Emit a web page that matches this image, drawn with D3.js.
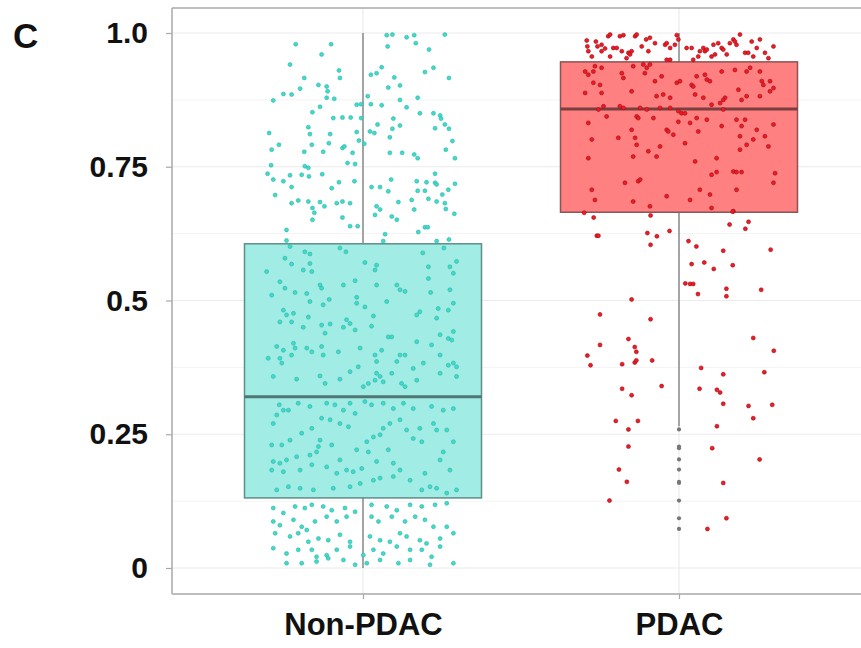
<!DOCTYPE html>
<html>
<head>
<meta charset="utf-8">
<script src="https://cdn.jsdelivr.net/npm/d3@7/dist/d3.min.js"></script>
<style>
  html, body { margin: 0; padding: 0; background: #ffffff; }
  svg { display: block; }
  text { font-family: "Liberation Sans", Arial, sans-serif; font-weight: bold; fill: #111; }
</style>
</head>
<body>
<svg id="chart" width="861" height="648"></svg>
<script>
// ---------------- DATA ----------------
const panelLabel = "C";
const categories = ["Non-PDAC", "PDAC"];
const yTicks = [0, 0.25, 0.5, 0.75, 1];
const yTickLabels = ["0", "0.25", "0.5", "0.75", "1.0"];
const yMinorTicks = [0.125, 0.375, 0.625, 0.875];

// box statistics: [lower whisker, Q1, median, Q3, upper whisker]
const nonPdacBox = [0.0, 0.131, 0.32, 0.606, 1.0];
const pdacBox = [0.265, 0.665, 0.858, 0.946, 1.0];

// jittered observations: [horizontal jitter (category units), value]
const nonPdacPoints = [
[-0.213,0.979],[-0.101,0.979],[-0.131,0.960],[-0.231,0.941],[-0.186,0.916],[-0.199,0.896],[-0.252,0.886],[-0.226,0.885],
[-0.284,0.874],[-0.141,0.903],[-0.115,0.900],[-0.112,0.891],[-0.115,0.879],[-0.091,0.877],[-0.076,0.930],[-0.073,0.916],
[-0.136,0.862],[-0.160,0.852],[-0.094,0.841],[-0.065,0.842],[-0.039,0.842],[-0.020,0.866],[-0.006,0.867],[-0.006,0.841],
[-0.173,0.824],[-0.168,0.811],[-0.104,0.811],[-0.297,0.813],[-0.266,0.791],[-0.289,0.782],[-0.162,0.791],[-0.186,0.778],
[-0.126,0.778],[-0.108,0.794],[-0.065,0.785],[-0.059,0.788],[-0.033,0.776],[-0.020,0.815],[-0.013,0.799],[0.004,0.793],
[-0.291,0.753],[-0.302,0.737],[-0.284,0.726],[-0.252,0.723],[-0.231,0.734],[-0.194,0.735],[-0.184,0.751],[-0.173,0.748],
[-0.171,0.732],[-0.129,0.736],[-0.049,0.757],[-0.025,0.755],[-0.226,0.712],[-0.099,0.710],[-0.076,0.721],[-0.027,0.723],
[-0.278,0.697],[-0.226,0.682],[-0.205,0.687],[-0.173,0.685],[-0.160,0.673],[-0.154,0.664],[-0.160,0.651],[-0.136,0.684],
[-0.122,0.676],[-0.083,0.682],[-0.065,0.685],[-0.041,0.682],[-0.065,0.655],[-0.041,0.639],[-0.017,0.639],[-0.242,0.632],
[-0.242,0.612],
[0.075,0.996],[0.093,0.997],[0.138,0.992],[0.162,0.996],[0.167,0.981],[0.259,0.997],[0.078,0.975],[0.209,0.969],
[0.059,0.936],[0.043,0.925],[0.025,0.922],[0.099,0.917],[0.080,0.898],[0.117,0.902],[0.196,0.927],[0.223,0.935],
[0.272,0.916],[0.015,0.882],[0.025,0.867],[0.059,0.865],[0.117,0.875],[0.138,0.861],[0.173,0.879],[0.096,0.840],
[0.093,0.821],[0.046,0.829],[0.117,0.827],[0.022,0.816],[0.036,0.813],[0.085,0.805],[0.180,0.850],[0.223,0.850],
[0.244,0.846],[0.247,0.840],[0.228,0.822],[0.259,0.829],[0.272,0.821],[0.283,0.798],[0.085,0.776],[0.124,0.776],
[0.162,0.773],[0.173,0.766],[0.262,0.782],[0.291,0.766],[0.089,0.726],[0.027,0.712],[0.054,0.712],[0.080,0.704],
[0.112,0.684],[0.170,0.723],[0.173,0.705],[0.196,0.705],[0.201,0.721],[0.228,0.737],[0.228,0.720],[0.233,0.717],
[0.251,0.698],[0.270,0.707],[0.291,0.718],[0.207,0.690],[0.233,0.685],[0.259,0.682],[0.262,0.671],[0.289,0.662],
[0.154,0.688],[0.162,0.670],[0.043,0.676],[0.054,0.670],[0.038,0.660],[0.091,0.657],[0.107,0.651],[0.070,0.624],
[0.175,0.628],[0.196,0.637],[0.205,0.637],[0.064,0.611],[0.233,0.611],[0.272,0.614],
[-0.231,0.601],[-0.184,0.591],[-0.168,0.587],[-0.073,0.598],[-0.054,0.591],[0.189,0.589],[0.256,0.598],[-0.247,0.579],
[-0.226,0.568],[-0.168,0.569],[-0.189,0.557],[-0.162,0.554],[-0.305,0.554],[0.006,0.571],[0.043,0.566],[0.038,0.557],
[0.207,0.563],[0.275,0.563],[0.296,0.573],[0.286,0.551],[-0.263,0.535],[-0.247,0.523],[-0.136,0.529],[-0.131,0.523],
[-0.215,0.515],[-0.178,0.513],[-0.289,0.510],[-0.168,0.498],[-0.107,0.502],[-0.126,0.492],[-0.025,0.537],[-0.062,0.529],
[0.043,0.529],[0.107,0.529],[0.117,0.520],[0.133,0.517],[-0.020,0.506],[-0.020,0.495],[0.006,0.488],[0.075,0.498],
[0.207,0.541],[0.214,0.515],[0.275,0.520],[0.286,0.495],[0.270,0.482],[0.238,0.485],[0.180,0.479],[0.170,0.473],
[0.233,0.467],[-0.252,0.482],[-0.242,0.473],[-0.263,0.460],[-0.220,0.476],[-0.226,0.460],[-0.173,0.469],[-0.189,0.450],
[-0.131,0.454],[-0.104,0.456],[-0.052,0.464],[-0.041,0.457],[-0.062,0.450],[-0.120,0.439],[-0.025,0.445],[0.033,0.471],
[0.027,0.452],[0.080,0.432],[0.091,0.432],[0.244,0.436],[0.270,0.429],[0.281,0.426],[0.286,0.442],[0.170,0.423],
[0.217,0.417],[-0.273,0.414],[-0.252,0.407],[-0.220,0.420],[-0.215,0.411],[-0.226,0.398],[-0.263,0.392],[-0.257,0.383],
[-0.300,0.392],[-0.178,0.411],[-0.162,0.404],[-0.131,0.414],[-0.126,0.398],[-0.078,0.404],[-0.009,0.411],[0.038,0.398],
[0.059,0.407],[0.117,0.398],[0.133,0.398],[0.107,0.386],[0.043,0.386],[0.244,0.398],[0.270,0.379],[0.286,0.383],
[0.191,0.383],[0.159,0.373],[-0.015,0.376],[-0.041,0.367],[-0.073,0.353],[-0.136,0.359],[-0.120,0.345],[-0.210,0.353],
[-0.284,0.358],[0.043,0.364],[0.054,0.358],[0.038,0.351],[0.064,0.348],[0.017,0.345],[0.001,0.339],[0.091,0.364],
[0.122,0.345],[0.133,0.339],[0.170,0.351],[0.244,0.364],[0.296,0.358],[0.296,0.376],
[-0.265,0.305],[-0.236,0.295],[-0.273,0.286],[-0.284,0.270],[-0.252,0.295],[-0.205,0.308],[-0.168,0.302],[-0.115,0.308],
[-0.089,0.305],[-0.062,0.295],[-0.041,0.308],[-0.025,0.289],[0.006,0.311],[0.027,0.305],[0.064,0.308],[0.096,0.298],
[0.128,0.308],[0.159,0.298],[0.217,0.302],[0.254,0.295],[0.286,0.298],[-0.131,0.280],[-0.104,0.277],[-0.073,0.270],
[-0.046,0.264],[-0.162,0.261],[-0.194,0.252],[-0.231,0.239],[-0.257,0.230],[-0.289,0.230],[-0.136,0.239],[-0.141,0.227],
[-0.147,0.217],[-0.168,0.211],[-0.210,0.208],[-0.242,0.202],[-0.263,0.196],[-0.284,0.199],[-0.289,0.183],[-0.252,0.180],
[-0.199,0.183],[-0.162,0.193],[-0.115,0.189],[-0.083,0.177],[-0.052,0.183],[-0.031,0.180],[-0.004,0.186],[-0.073,0.202],
[-0.099,0.230],[-0.020,0.221],[0.012,0.236],[0.033,0.245],[0.054,0.249],[0.017,0.217],[0.043,0.199],[0.080,0.221],
[0.096,0.196],[0.117,0.183],[0.064,0.261],[0.085,0.270],[0.117,0.277],[0.138,0.258],[0.180,0.261],[0.186,0.236],
[0.159,0.242],[0.223,0.270],[0.233,0.258],[0.265,0.258],[0.286,0.236],[0.254,0.217],[0.244,0.202],[0.275,0.183],
[0.196,0.177],[0.149,0.164],[0.096,0.171],[0.054,0.168],[0.033,0.164],[-0.009,0.158],[-0.041,0.152],[-0.094,0.149],
[-0.157,0.146],[-0.199,0.149],[-0.236,0.152],[-0.273,0.146],[0.212,0.152],[0.233,0.149],[0.265,0.140],[0.296,0.146],
[0.186,0.146],
[-0.284,0.112],[-0.252,0.103],[-0.215,0.115],[-0.184,0.112],[-0.162,0.118],[-0.126,0.115],[-0.099,0.108],[-0.057,0.112],
[-0.025,0.105],[0.027,0.118],[0.075,0.115],[0.107,0.108],[0.149,0.118],[0.186,0.115],[0.228,0.118],[0.265,0.121],
[-0.284,0.087],[-0.263,0.080],[-0.220,0.090],[-0.194,0.077],[-0.178,0.071],[-0.152,0.087],[-0.115,0.096],[-0.083,0.087],
[-0.052,0.096],[0.027,0.096],[0.049,0.087],[0.091,0.096],[0.133,0.087],[0.165,0.096],[0.196,0.090],[0.223,0.077],
[0.265,0.077],[-0.278,0.065],[-0.231,0.059],[-0.205,0.065],[-0.173,0.049],[-0.141,0.055],[-0.110,0.052],[-0.073,0.062],
[-0.041,0.049],[0.022,0.059],[0.054,0.052],[0.085,0.049],[0.117,0.065],[0.138,0.059],[0.180,0.052],[0.201,0.046],
[0.244,0.055],[0.286,0.065],[-0.284,0.037],[-0.242,0.027],[-0.205,0.034],[-0.162,0.034],[-0.147,0.021],[-0.115,0.024],
[-0.083,0.034],[-0.041,0.040],[0.001,0.024],[0.033,0.034],[0.064,0.027],[0.107,0.040],[0.149,0.034],[0.186,0.034],
[0.217,0.021],[0.244,0.040],[-0.242,0.009],[-0.194,0.009],[-0.147,0.012],[-0.110,0.018],[-0.062,0.015],[-0.025,0.006],
[0.012,0.009],[0.054,0.015],[0.112,0.009],[0.149,0.015],[0.212,0.006],[0.286,0.009]
];

const pdacPoints = [
[-0.292,0.986],[-0.290,0.975],[-0.287,0.966],[-0.276,0.956],[-0.263,0.984],[-0.258,0.975],[-0.245,0.978],[-0.234,0.971],
[-0.224,0.994],[-0.218,0.997],[-0.208,0.972],[-0.197,0.972],[-0.187,0.994],[-0.181,0.966],[-0.176,0.996],[-0.160,0.963],
[-0.155,0.960],[-0.150,0.966],[-0.139,0.994],[-0.134,0.997],[-0.118,0.975],[-0.104,0.988],[-0.097,0.966],[-0.092,0.991],
[-0.076,0.981],[-0.044,0.978],[-0.039,0.981],[-0.028,0.972],[-0.013,0.978],[-0.007,0.996],[-0.002,0.988],[0.024,0.972],
[0.040,0.972],[0.061,0.956],[0.066,0.966],[0.077,0.972],[0.082,0.966],[0.088,0.969],[0.109,0.978],[0.114,0.960],
[0.124,0.981],[0.135,0.972],[0.140,0.969],[0.151,0.960],[0.161,0.981],[0.172,0.988],[0.177,0.984],[0.182,0.978],
[0.193,0.997],[0.209,0.963],[0.219,0.963],[0.235,0.956],[0.246,0.972],[0.256,0.988],[0.272,0.963],[0.283,0.953],
[0.299,0.975],[0.230,0.984],[0.103,0.956],[0.045,0.950],[-0.028,0.950],[-0.166,0.953],[-0.218,0.956],[-0.245,0.966],
[-0.297,0.928],[-0.287,0.922],[-0.271,0.928],[-0.266,0.938],[-0.245,0.935],[-0.271,0.907],[-0.250,0.903],[-0.297,0.888],
[-0.245,0.888],[-0.239,0.863],[-0.229,0.844],[-0.255,0.857],[-0.287,0.832],[-0.276,0.801],[-0.287,0.766],[-0.276,0.707],
[-0.266,0.688],[-0.181,0.925],[-0.176,0.916],[-0.187,0.863],[-0.176,0.860],[-0.150,0.891],[-0.145,0.938],[-0.113,0.941],
[-0.102,0.935],[-0.092,0.941],[-0.108,0.925],[-0.076,0.910],[-0.055,0.919],[-0.071,0.882],[-0.050,0.885],[-0.028,0.879],
[-0.039,0.950],[-0.123,0.860],[-0.102,0.857],[-0.060,0.860],[-0.028,0.860],[-0.002,0.854],[0.008,0.850],[0.019,0.850],
[-0.134,0.844],[-0.129,0.841],[-0.081,0.841],[-0.150,0.819],[-0.139,0.804],[-0.192,0.804],[-0.134,0.791],[-0.145,0.769],
[-0.097,0.779],[-0.071,0.769],[-0.060,0.788],[-0.039,0.819],[-0.034,0.816],[-0.018,0.810],[0.019,0.794],[-0.002,0.834],
[0.035,0.832],[0.056,0.841],[0.088,0.838],[0.061,0.816],[0.135,0.826],[0.182,0.838],[0.209,0.838],[0.198,0.826],
[0.246,0.819],[0.299,0.829],[0.272,0.807],[0.283,0.788],[0.235,0.801],[0.214,0.791],[0.193,0.807],[0.193,0.782],
[-0.007,0.907],[0.003,0.910],[0.040,0.903],[0.045,0.900],[0.051,0.885],[0.077,0.879],[0.088,0.913],[0.098,0.910],
[0.056,0.919],[0.082,0.922],[0.135,0.928],[0.177,0.931],[0.214,0.928],[0.225,0.935],[0.256,0.928],[0.262,0.910],
[0.267,0.903],[0.288,0.910],[0.288,0.891],[0.256,0.882],[0.214,0.882],[0.198,0.875],[0.188,0.894],[0.146,0.879],
[0.140,0.875],[0.130,0.869],[0.103,0.866],[0.140,0.857],[0.119,0.766],[0.051,0.760],[0.103,0.735],[0.119,0.740],
[0.172,0.741],[0.182,0.740],[0.198,0.740],[0.304,0.738],[0.299,0.720],[0.182,0.707],[0.098,0.698],[0.066,0.707],
[0.035,0.688],[-0.039,0.695],[-0.092,0.676],[-0.145,0.685],[-0.171,0.720],[-0.129,0.723],[-0.123,0.726],[0.103,0.673],
[0.172,0.667],[0.299,0.897],
[-0.300,0.664],[-0.270,0.655],[-0.090,0.659],[0.170,0.666],[0.160,0.642],[0.220,0.647],[0.210,0.634],[-0.260,0.621],
[-0.255,0.621],[-0.100,0.626],[-0.070,0.620],[-0.030,0.630],[-0.090,0.604],[0.030,0.611],[0.055,0.601],[0.140,0.593],
[0.290,0.595],[0.040,0.568],[0.080,0.571],[0.110,0.559],[0.170,0.566],[0.020,0.532],[0.035,0.531],[0.045,0.531],
[0.150,0.522],[0.260,0.520],[0.060,0.512],[0.150,0.508],[-0.150,0.502],[-0.250,0.474],[-0.090,0.465],[0.235,0.430],
[-0.160,0.428],[-0.250,0.417],[-0.140,0.413],[-0.135,0.404],[-0.290,0.397],[-0.280,0.379],[-0.180,0.381],[-0.140,0.384],
[-0.135,0.388],[-0.085,0.388],[0.300,0.406],[0.070,0.374],[0.140,0.362],[0.270,0.366],[-0.180,0.335],[-0.150,0.323],
[-0.055,0.340],[0.065,0.335],[0.120,0.333],[0.130,0.328],[0.140,0.307],[0.220,0.303],[0.295,0.305],[0.235,0.280],
[-0.200,0.275],[-0.130,0.275],[-0.160,0.259],[0.120,0.265],[-0.160,0.227],[0.105,0.224],[0.255,0.203],[-0.190,0.184],
[-0.165,0.161],[0.140,0.159],[-0.220,0.126],[0.150,0.093],[0.090,0.073]
];

const groupPoints = [nonPdacPoints, pdacPoints];
const groupBoxes = [nonPdacBox, pdacBox];

// ---------------- STYLE / LAYOUT ----------------
const pointFill = ["#3fdccb", "#f21b25"];
const pointStroke = ["#2bb3a6", "#9a0c14"];
const boxFill = ["#a1ece4", "#ff8080"];
const boxStroke = ["#5f8e89", "#8c5353"];
const medianStroke = ["#4f7672", "#7a3f3f"];

const W = 861, H = 648;
const panel = { left: 172, top: 8, bottom: 594, right: 875 };

const svg = d3.select("#chart");

const y = d3.scaleLinear().domain([0, 1]).range([568, 33]);
const x = d3.scalePoint().domain(categories).range([363, 679]);
const step = x(categories[1]) - x(categories[0]);
const boxW = 0.75 * step;

// panel background
svg.append("rect").attr("x", panel.left).attr("y", panel.top)
  .attr("width", panel.right - panel.left).attr("height", panel.bottom - panel.top)
  .attr("fill", "#ffffff");

// minor grid
svg.append("g").selectAll("line").data(yMinorTicks).join("line")
  .attr("x1", panel.left).attr("x2", panel.right)
  .attr("y1", d => y(d)).attr("y2", d => y(d))
  .attr("stroke", "#f3f3f3").attr("stroke-width", 1);
// major grid
svg.append("g").selectAll("line").data(yTicks).join("line")
  .attr("x1", panel.left).attr("x2", panel.right)
  .attr("y1", d => y(d)).attr("y2", d => y(d))
  .attr("stroke", "#ebebeb").attr("stroke-width", 1.2);
svg.append("g").selectAll("line").data(categories).join("line")
  .attr("x1", d => x(d)).attr("x2", d => x(d))
  .attr("y1", panel.top).attr("y2", panel.bottom)
  .attr("stroke", "#ebebeb").attr("stroke-width", 1.2);

// boxes
categories.forEach((cat, i) => {
  const b = groupBoxes[i];
  const cx = x(cat);
  const g = svg.append("g");
  // whiskers
  g.append("line").attr("x1", cx).attr("x2", cx).attr("y1", y(b[3])).attr("y2", y(b[4]))
    .attr("stroke", "#7a7a7a").attr("stroke-width", 1.3);
  g.append("line").attr("x1", cx).attr("x2", cx).attr("y1", y(b[1])).attr("y2", y(b[0]))
    .attr("stroke", "#7a7a7a").attr("stroke-width", 1.3);
  g.append("rect").attr("x", cx - boxW / 2).attr("y", y(b[3]))
    .attr("width", boxW).attr("height", y(b[1]) - y(b[3]))
    .attr("fill", boxFill[i]).attr("stroke", boxStroke[i]).attr("stroke-width", 1.5);
  g.append("line").attr("x1", cx - boxW / 2).attr("x2", cx + boxW / 2)
    .attr("y1", y(b[2])).attr("y2", y(b[2]))
    .attr("stroke", medianStroke[i]).attr("stroke-width", 3);
  // outliers (values beyond whiskers), drawn at the category centre
  const outl = groupPoints[i].filter(p => p[1] < b[0] - 1e-9 || p[1] > b[4] + 1e-9);
  g.selectAll("circle.out").data(outl).join("circle")
    .attr("class", "out")
    .attr("cx", cx).attr("cy", d => y(d[1])).attr("r", 2.1)
    .attr("fill", "#777777");
});

// jittered points
categories.forEach((cat, i) => {
  svg.append("g").selectAll("circle").data(groupPoints[i]).join("circle")
    .attr("cx", d => x(cat) + d[0] * step)
    .attr("cy", d => y(d[1]))
    .attr("r", 2)
    .attr("fill", pointFill[i])
    .attr("stroke", pointStroke[i])
    .attr("stroke-width", 0.6);
});

// panel border lines (left, top, bottom)
const borderColor = "#a9a9a9";
svg.append("line").attr("x1", panel.left).attr("x2", panel.left)
  .attr("y1", panel.top).attr("y2", panel.bottom)
  .attr("stroke", borderColor).attr("stroke-width", 1.5);
svg.append("line").attr("x1", panel.left).attr("x2", W)
  .attr("y1", panel.top).attr("y2", panel.top)
  .attr("stroke", borderColor).attr("stroke-width", 1.5);
svg.append("line").attr("x1", panel.left).attr("x2", W)
  .attr("y1", panel.bottom).attr("y2", panel.bottom)
  .attr("stroke", borderColor).attr("stroke-width", 1.5);

// y axis
const yAxis = d3.axisLeft(y).tickValues(yTicks)
  .tickFormat((d, i) => yTickLabels[i]).tickSize(6).tickPadding(18);
const gy = svg.append("g").attr("transform", `translate(${panel.left},0)`).call(yAxis);
gy.select(".domain").remove();
gy.selectAll(".tick line").attr("stroke", "#a9a9a9").attr("stroke-width", 1.2);
gy.selectAll(".tick text").attr("font-size", 30).attr("font-weight", "bold")
  .attr("font-family", "'Liberation Sans', Arial, sans-serif").attr("fill", "#111");

// x axis
const xAxis = d3.axisBottom(x).tickSize(5).tickPadding(14);
const gx = svg.append("g").attr("transform", `translate(0,${panel.bottom})`).call(xAxis);
gx.select(".domain").remove();
gx.selectAll(".tick line").attr("stroke", "#a9a9a9").attr("stroke-width", 1.2);
gx.selectAll(".tick text").attr("font-size", 31).attr("font-weight", "bold")
  .attr("font-family", "'Liberation Sans', Arial, sans-serif").attr("fill", "#111");

// panel letter
svg.append("text").attr("x", 13).attr("y", 48)
  .attr("font-size", 35).attr("font-weight", "bold").text(panelLabel);
</script>
</body>
</html>
